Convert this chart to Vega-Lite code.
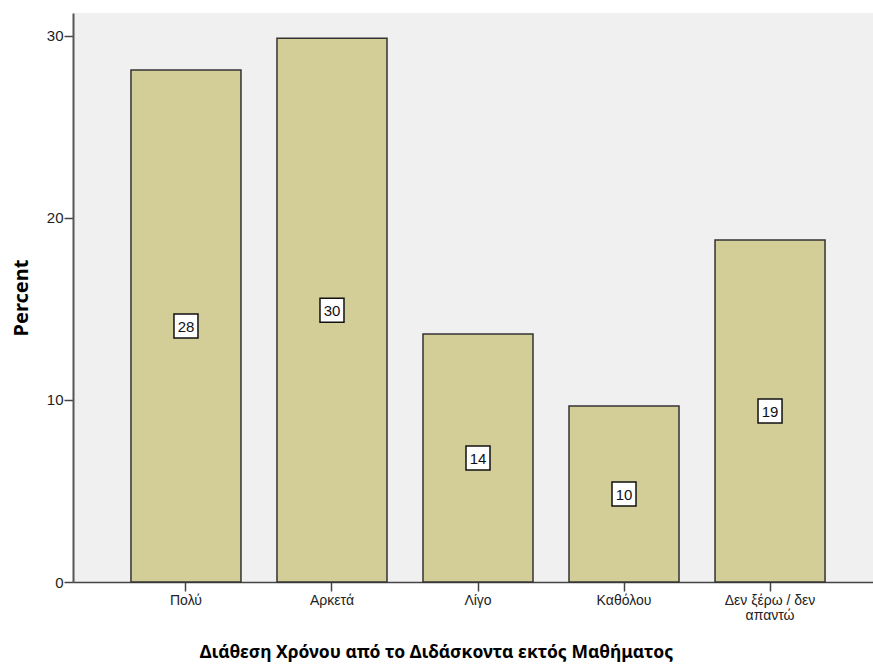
{
  "$schema": "https://vega.github.io/schema/vega-lite/v6.json",
  "width": 810,
  "height": 569,
  "autosize": "none",
  "padding": {"left": 73, "top": 13, "right": 0, "bottom": 82},
  "background": "white",
  "config": {
    "view": {"fill": "#f0f0f0", "stroke": null},
    "font": "Liberation Sans"
  },
  "data": {
    "values": [
      {"cat": "Πολύ", "pct": 28.13, "label": "28"},
      {"cat": "Αρκετά", "pct": 29.87, "label": "30"},
      {"cat": "Λίγο", "pct": 13.63, "label": "14"},
      {"cat": "Καθόλου", "pct": 9.67, "label": "10"},
      {"cat": "Δεν ξέρω / δεν απαντώ", "pct": 18.79, "label": "19"}
    ]
  },
  "encoding": {
    "x": {
      "field": "cat",
      "type": "nominal",
      "sort": null,
      "scale": {"paddingInner": 0.2466, "paddingOuter": 0.397},
      "axis": {
        "title": "Διάθεση Χρόνου από το Διδάσκοντα εκτός Μαθήματος",
        "titleFont": "Noto Sans",
        "titleFontSize": 17.5,
        "titleFontWeight": "bold",
        "titleColor": "#000000",
        "titleX": 363,
        "titleY": 75,
        "titleAnchor": null,
        "titleAlign": "center",
        "titleBaseline": "alphabetic",
        "labelAngle": 0,
        "labelFont": "Liberation Sans",
        "labelFontSize": 14,
        "labelColor": "#222222",
        "labelPadding": 2,
        "labelLineHeight": 15,
        "labelExpr": "datum.label == 'Δεν ξέρω / δεν απαντώ' ? ['Δεν ξέρω / δεν', 'απαντώ'] : datum.label",
        "tickSize": 9,
        "tickColor": "#444444",
        "tickWidth": 1.5,
        "domainColor": "#444444",
        "domainWidth": 1.5,
        "grid": false
      }
    }
  },
  "layer": [
    {
      "mark": {"type": "bar", "fill": "#d3ce97", "stroke": "#333333", "strokeWidth": 1.5},
      "encoding": {
        "y": {
          "field": "pct",
          "type": "quantitative",
          "scale": {"domain": [0, 31.26], "nice": false},
          "axis": {
            "title": "Percent",
            "titleFont": "Noto Sans",
            "titleFontSize": 20,
            "titleFontWeight": "bold",
            "titleColor": "#000000",
            "titlePadding": 15,
            "values": [0, 10, 20, 30],
            "labelFont": "Liberation Sans",
            "labelFontSize": 15,
            "labelColor": "#222222",
            "labelPadding": 1,
            "tickSize": 9,
            "tickColor": "#444444",
            "tickWidth": 1.5,
            "domainColor": "#555555",
            "domainWidth": 2,
            "grid": false
          }
        }
      }
    },
    {
      "transform": [{"calculate": "datum.pct / 2", "as": "mid"}],
      "layer": [
        {
          "mark": {"type": "point", "shape": "square", "size": 576, "filled": true, "fill": "white", "stroke": "#111111", "strokeWidth": 1.5, "opacity": 1},
          "encoding": {"y": {"field": "mid", "type": "quantitative"}}
        },
        {
          "mark": {"type": "text", "font": "Liberation Sans", "fontSize": 15, "color": "#111111", "baseline": "middle", "align": "center", "dy": 1},
          "encoding": {
            "y": {"field": "mid", "type": "quantitative"},
            "text": {"field": "label"}
          }
        }
      ]
    }
  ]
}
